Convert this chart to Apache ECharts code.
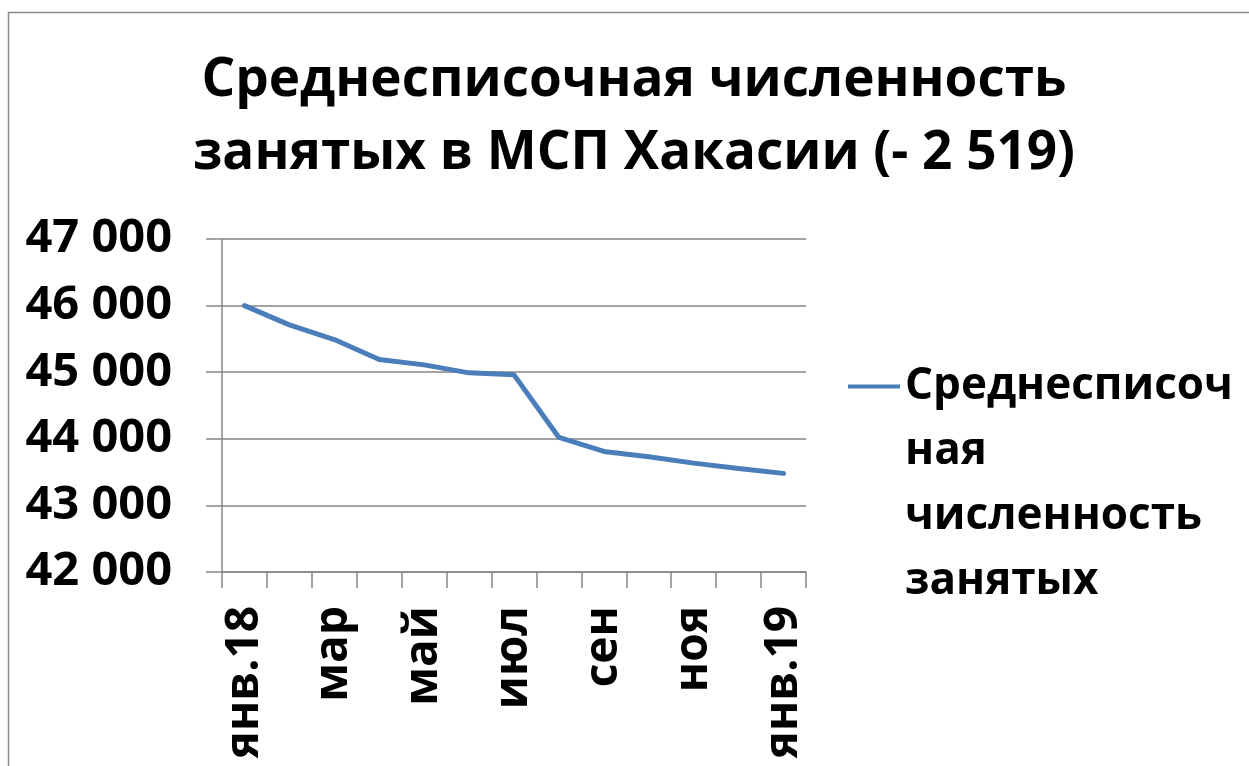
<!DOCTYPE html>
<html>
<head>
<meta charset="utf-8">
<script src="https://cdn.jsdelivr.net/npm/echarts@6/dist/echarts.min.js"></script>
<style>html,body{margin:0;padding:0;background:#fff}#c{width:1249px;height:766px}</style>
</head>
<body>
<div id="c"></div>
<script>
const categories = ['янв.18','фев','мар','апр','май','июн','июл','авг','сен','окт','ноя','дек','янв.19'];
const values = [46000, 45710, 45490, 45190, 45110, 44990, 44960, 44020, 43810, 43730, 43635, 43555, 43481];
const seriesName = 'Среднесписочная численность занятых';
const legendLines = ['Среднесписоч','ная','численность','занятых'];
const titleText = 'Среднесписочная численность\nзанятых в МСП Хакасии (- 2 519)';
const yMin = 42000, yMax = 47000, yStep = 1000;

const FONT = '"Open Sans", "DejaVu Sans", sans-serif';
const chart = echarts.init(document.getElementById('c'), null, {renderer: 'canvas'});
chart.setOption({
  backgroundColor: '#fff',
  animation: false,
  graphic: [{
    type: 'rect', silent: true,
    shape: {x: 8.5, y: 12.5, width: 1400, height: 900},
    style: {fill: 'none', stroke: '#8a8a8a', lineWidth: 1.5}
  }],
  title: {
    text: titleText,
    left: 634, top: 44, textAlign: 'center', padding: 0,
    textStyle: {fontFamily: FONT, fontWeight: 'bold', fontSize: 53, lineHeight: 73, color: '#000'}
  },
  legend: {
    left: 848, top: 383 - 3.5 * 64, padding: 0,
    icon: 'rect', itemWidth: 52, itemHeight: 4, itemGap: 0,
    data: [seriesName],
    formatter: () => '\n\n\n' + legendLines.join('\n'),
    textStyle: {fontFamily: FONT, fontWeight: 'bold', fontSize: 44, lineHeight: 65, color: '#000', padding: [0,0,0,0]}
  },
  grid: {left: 222, right: 1249 - 806, top: 239, bottom: 766 - 572, containLabel: false},
  xAxis: {
    type: 'category', data: categories, boundaryGap: true,
    axisLine: {lineStyle: {color: '#868686', width: 1.5}},
    axisTick: {show: true, interval: 0, length: 16, alignWithLabel: false, lineStyle: {color: '#868686', width: 1.5}},
    axisLabel: {interval: 1, rotate: 90, margin: 34, fontFamily: FONT, fontWeight: 'bold', fontSize: 46, color: '#000'},
    splitLine: {show: false}
  },
  yAxis: {
    type: 'value', min: yMin, max: yMax, interval: yStep,
    axisLine: {show: true, lineStyle: {color: '#868686', width: 1.5}},
    axisTick: {show: true, length: 16, lineStyle: {color: '#868686', width: 1.5}},
    axisLabel: {margin: 50, fontFamily: FONT, fontWeight: 'bold', fontSize: 47, color: '#000',
      formatter: v => String(v).replace(/\B(?=(\d{3})+(?!\d))/g, ' ')},
    splitLine: {show: true, lineStyle: {color: '#868686', width: 1.5}}
  },
  series: [{
    type: 'line', name: seriesName, data: values,
    showSymbol: false, symbol: 'none',
    lineStyle: {color: '#4A7EBB', width: 5, cap: 'round', join: 'round'},
    itemStyle: {color: '#4A7EBB'}
  }]
});
</script>
</body>
</html>
